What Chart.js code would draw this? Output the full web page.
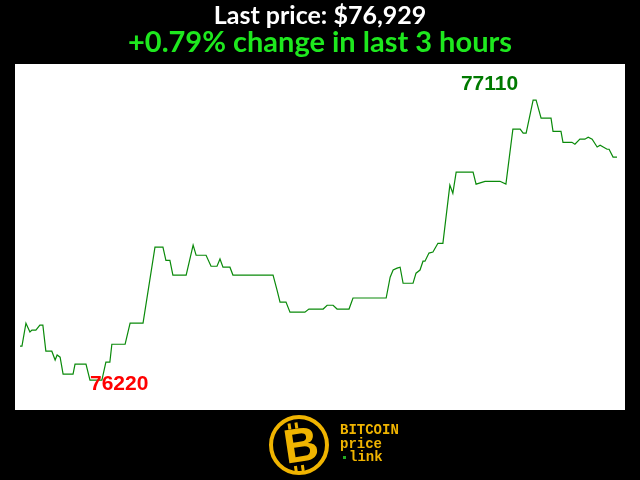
<!DOCTYPE html>
<html>
<head>
<meta charset="utf-8">
<script src="https://cdn.jsdelivr.net/npm/chart.js@4"></script>
<style>
  html, body { margin: 0; padding: 0; background: #000; }
  #wrap { width: 640px; height: 480px; }
</style>
</head>
<body>
<div id="wrap"><canvas id="priceChart"></canvas></div>
<script>
// minutes since start of the 3 hour window
var minutes = [0, 0.6, 1.8, 3.0, 3.6, 4.8, 6.0, 6.9, 7.8, 9.6, 10.6, 11.2, 12.1, 13.0, 16.0, 16.6, 19.9, 21.1, 24.7, 25.9,
  27.1, 27.7, 31.7, 33.2, 37.1, 40.7, 43.1, 44.0, 45.2, 46.1, 50.1, 52.2, 53.1, 56.1, 57.6, 59.4, 60.3, 61.2, 63.3, 64.2,
  76.3, 77.5, 78.4, 80.2, 81.4, 85.9, 87.1, 91.4, 92.6, 94.4, 95.6, 99.2, 100.4, 110.4, 111.6, 112.5, 113.7, 114.6, 115.5, 118.5,
  119.4, 120.6, 121.5, 122.1, 123.3, 124.5, 126.0, 127.5, 129.6, 130.5, 131.5, 136.6, 137.5, 140.2, 144.7, 146.5, 148.6, 150.8, 151.7, 152.6,
  154.7, 155.6, 157.1, 160.1, 160.7, 163.1, 163.7, 166.4, 167.3, 168.8, 170.3, 171.3, 172.5, 174.0, 174.9, 177.0, 177.6, 178.8, 180.0];
var prices = [76328, 76328, 76401, 76373, 76379, 76379, 76395, 76395, 76312, 76312, 76284, 76300, 76293, 76239, 76239, 76271, 76271, 76220, 76220, 76277,
  76277, 76334, 76334, 76401, 76401, 76643, 76643, 76601, 76601, 76554, 76554, 76649, 76617, 76617, 76582, 76582, 76605, 76579, 76579, 76554,
  76554, 76506, 76468, 76468, 76436, 76436, 76446, 76446, 76458, 76458, 76446, 76446, 76481, 76481, 76547, 76570, 76576, 76579, 76528, 76528,
  76560, 76570, 76598, 76598, 76624, 76627, 76655, 76655, 76840, 76814, 76881, 76881, 76843, 76852, 76852, 76843, 77018, 77018, 77005, 77005,
  77110, 77110, 77053, 77053, 77011, 77011, 76976, 76976, 76970, 76986, 76986, 76992, 76986, 76961, 76967, 76954, 76954, 76929, 76929];

var titleText = "Last price: $76,929";
var subtitleText = "+0.79% change in last 3 hours";
var highLabel = "77110";
var lowLabel = "76220";

var points = minutes.map(function (m, i) { return { x: m, y: prices[i] }; });

var decorPlugin = {
  id: "decor",
  beforeDraw: function (chart) {
    var c = chart.ctx, a = chart.chartArea;
    c.save();
    c.fillStyle = "#000";
    c.fillRect(0, 0, chart.width, chart.height);
    c.fillStyle = "#fff";
    c.fillRect(a.left, a.top, a.right - a.left, a.bottom - a.top);
    c.restore();
  },
  afterDraw: function (chart) {
    var c = chart.ctx;
    var xs = chart.scales.x, ys = chart.scales.y;
    c.save();
    c.textAlign = "center";
    c.textBaseline = "middle";
    c.fillStyle = "#fff";
    c.font = "bold 25px Lato";
    c.fillText(titleText, 320, 16);
    c.fillStyle = "#1ee81e";
    c.font = "bold 29px Lato";
    c.fillText(subtitleText, 320, 43);

    // high / low labels
    var hi = prices.indexOf(Math.max.apply(null, prices));
    var lo = prices.indexOf(Math.min.apply(null, prices));
    c.font = "bold 21px 'Liberation Sans'";
    c.fillStyle = "#007a00";
    c.textAlign = "right";
    c.fillText(highLabel, xs.getPixelForValue(minutes[hi]) - 15, ys.getPixelForValue(prices[hi]) - 16);
    c.fillStyle = "#ff0000";
    c.textAlign = "left";
    c.fillText(lowLabel, xs.getPixelForValue(minutes[lo]), ys.getPixelForValue(prices[lo]) + 4);

    // logo
    var gold = "#f0b400";
    c.strokeStyle = gold;
    c.lineWidth = 4;
    c.beginPath();
    c.arc(299, 445, 28, 0, Math.PI * 2);
    c.stroke();
    c.save();
    c.translate(301, 446);
    c.rotate(-0.15);
    c.fillStyle = gold;
    c.font = "bold 48px 'Liberation Sans'";
    c.textAlign = "center";
    c.fillText("B", 0, 2);
    c.fillRect(-10, -24, 3, 6);
    c.fillRect(-3, -24, 3, 6);
    c.fillRect(-10, 19, 3, 6);
    c.fillRect(-3, 19, 3, 6);
    c.restore();
    c.fillStyle = gold;
    c.font = "bold 14px 'Liberation Mono'";
    c.textAlign = "left";
    c.fillText("BITCOIN", 340, 430);
    c.fillText("price", 340, 444);
    c.fillText("link", 349, 457);
    c.fillStyle = "#22aa22";
    c.fillRect(343, 456, 3, 3);
    c.restore();
  }
};

document.addEventListener("DOMContentLoaded", function () {
  var ctx = document.getElementById("priceChart").getContext("2d");
  new Chart(ctx, {
    type: "line",
    data: {
      datasets: [{
        data: points,
        borderColor: "#0a8a0a",
        borderWidth: 1.2,
        pointRadius: 0,
        tension: 0,
        fill: false
      }]
    },
    options: {
      responsive: true,
      maintainAspectRatio: false,
      animation: false,
      layout: { padding: { left: 15, right: 15, top: 64, bottom: 70 } },
      plugins: { legend: { display: false }, tooltip: { enabled: false } },
      scales: {
        x: { type: "linear", min: -1.5, max: 182.4, display: false },
        y: { min: 76125, max: 77225, display: false }
      }
    },
    plugins: [decorPlugin]
  });
});
</script>
</body>
</html>
